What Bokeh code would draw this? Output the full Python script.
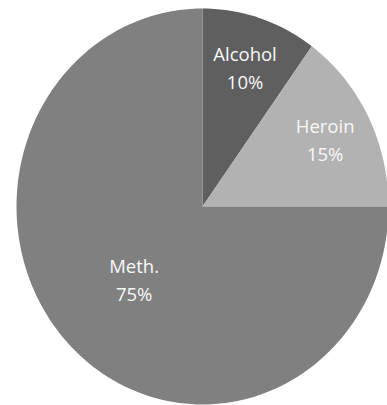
import math
from bokeh.plotting import figure
from bokeh.models import ColumnDataSource, Range1d
from bokeh.core.properties import value
from bokeh.embed import file_html
from bokeh.resources import INLINE

categories = ["Alcohol", "Heroin", "Meth."]
percents = [10, 15, 75]
colors = ["#5f5f5f", "#b2b2b2", "#808080"]
label_radius = [0.74, 0.74, 0.52]

W, H = 387, 405
p = figure(width=W, height=H, output_backend="svg", toolbar_location=None,
           x_axis_location=None, y_axis_location=None, min_border=0,
           x_range=Range1d(-202 / 186, (W - 202) / 186),
           y_range=Range1d(-(H - 206) / 198, 206 / 198))
p.grid.visible = False
p.outline_line_color = None
p.background_fill_color = "white"
p.border_fill_color = "white"

total = sum(percents)
xs, ys, lx, ly, t1, t2 = [], [], [], [], [], []
start = 0.0
for cat, pct, r in zip(categories, percents, label_radius):
    a0 = start
    a1 = start + pct / total * 2 * math.pi
    n = max(8, int(200 * pct / total))
    angs = [a0 + (a1 - a0) * i / n for i in range(n + 1)]
    xs.append([0.0] + [math.sin(a) for a in angs])
    ys.append([0.0] + [math.cos(a) for a in angs])
    mid = (a0 + a1) / 2
    lx.append(r * math.sin(mid))
    ly.append(r * math.cos(mid))
    t1.append(cat)
    t2.append(f"{pct}%")
    start = a1

src = ColumnDataSource(dict(xs=xs, ys=ys, color=colors))
p.patches("xs", "ys", source=src, fill_color="color", line_color=None)

lsrc = ColumnDataSource(dict(x=lx, y=ly, t1=t1, t2=t2))
common = dict(source=lsrc, text_align="center", text_baseline="middle",
              text_color="#f8f8f8", text_font=value("Open Sans"),
              text_font_size="18.5px")
p.text("x", "y", text="t1", y_offset=-14, **common)
p.text("x", "y", text="t2", y_offset=14, **common)

open("out.html", "w").write(file_html(p, INLINE))
